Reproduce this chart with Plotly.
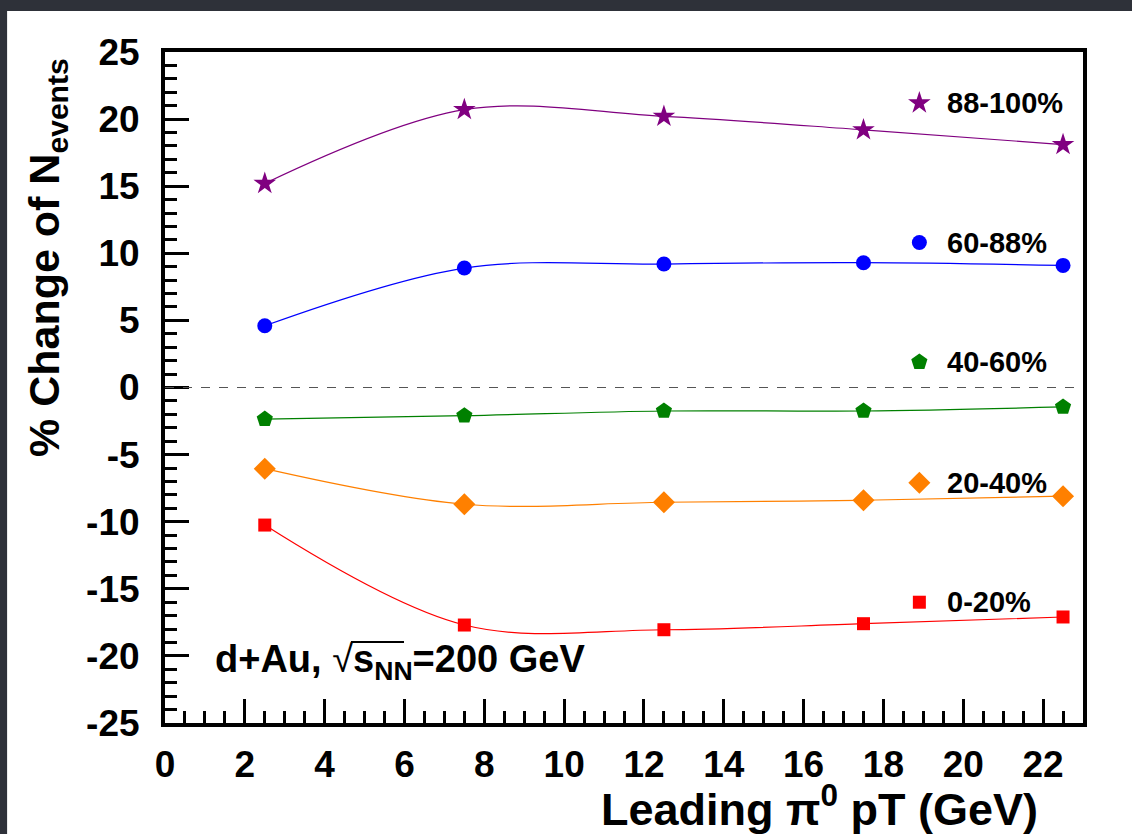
import plotly.graph_objects as go

# Leading pi0 pT bin centres (GeV)
pt_bins = [2.5, 7.5, 12.5, 17.5, 22.5]

# % change of N_events per centrality class
centrality_labels = ["88-100%", "60-88%", "40-60%", "20-40%", "0-20%"]
change_88_100 = [15.2, 20.7, 20.2, 19.2, 18.1]
change_60_88 = [4.6, 8.9, 9.2, 9.3, 9.1]
change_40_60 = [-2.35, -2.1, -1.75, -1.75, -1.45]
change_20_40 = [-6.05, -8.7, -8.55, -8.4, -8.1]
change_0_20 = [-10.25, -17.7, -18.05, -17.6, -17.1]

# axis tick labels (plain hyphen for negatives)
x_ticks = list(range(0, 23, 2))
y_ticks = [-25, -20, -15, -10, -5, 0, 5, 10, 15, 20, 25]
y_ticktext = [str(v) for v in y_ticks]

series = [change_88_100, change_60_88, change_40_60, change_20_40, change_0_20]
colors = ["#800080", "#0000ff", "#008000", "#ff8000", "#ff0000"]
symbols = ["star", "circle", "pentagon", "diamond", "square"]
sizes = [17, 15, 17, 17, 13]

# key placement (data coordinates) for the hand-drawn legend
key_x = 18.9
key_y = [21.2, 10.8, 1.9, -7.1, -16.0]

FONT = "Liberation Sans, Arial, sans-serif"

fig = go.Figure()

for vals, col, sym, sz in zip(series, colors, symbols, sizes):
    fig.add_trace(go.Scatter(
        x=pt_bins, y=vals, mode="lines+markers",
        line=dict(color=col, width=1.2, shape="spline", smoothing=1.0),
        marker=dict(symbol=sym, size=sz, color=col, line=dict(width=0)),
        showlegend=False, hoverinfo="skip",
    ))

# legend keys
for lab, col, sym, sz, ky in zip(centrality_labels, colors, symbols, sizes, key_y):
    fig.add_trace(go.Scatter(
        x=[key_x], y=[ky], mode="markers",
        marker=dict(symbol=sym, size=sz, color=col, line=dict(width=0)),
        showlegend=False, hoverinfo="skip",
    ))
    fig.add_annotation(x=19.55, y=ky, xref="x", yref="y", text=lab,
                       showarrow=False, xanchor="left", yanchor="middle",
                       font=dict(family=FONT, size=29, color="black", weight="bold"))

# zero reference line
fig.add_shape(type="line", x0=0, x1=23, y0=0, y1=0, xref="x", yref="y",
              line=dict(color="#555555", width=1, dash="dash"))

# white slide panel behind the plot
fig.add_shape(type="rect", xref="paper", yref="paper",
              x0=-0.172, x1=1.06, y0=-0.17, y1=1.061,
              fillcolor="white", line=dict(width=0), layer="below")

axis_common = dict(
    showgrid=False, zeroline=False, showline=True, linecolor="black",
    linewidth=4, mirror=True, ticks="inside", tickcolor="black",
    tickwidth=3, ticklen=24,
    tickfont=dict(family=FONT, size=37, color="black", weight="bold"),
)

fig.update_xaxes(range=[0, 23], tickvals=x_ticks,
                 minor=dict(ticks="inside", dtick=0.5, ticklen=12,
                            tickwidth=3, tickcolor="black"),
                 ticklabelstandoff=6, **axis_common)
fig.update_yaxes(range=[-25, 25], tickvals=y_ticks, ticktext=y_ticktext,
                 minor=dict(ticks="inside", dtick=1, ticklen=12,
                            tickwidth=3, tickcolor="black"),
                 ticklabelstandoff=14, **axis_common)

# axis titles
fig.add_annotation(xref="paper", yref="paper", x=1.0 - 43 / 918, y=(723 - 806) / 671,
                   text="Leading \u03c0<sup>0</sup> pT (GeV)", showarrow=False,
                   xanchor="right", yanchor="middle",
                   font=dict(family=FONT, size=45, color="black", weight="bold"))
fig.add_annotation(xref="paper", yref="paper", x=(47 - 165) / 918, y=(723 - 258) / 671,
                   text="% Change of N<sub>events</sub>", showarrow=False,
                   textangle=-90, xanchor="center", yanchor="middle",
                   font=dict(family=FONT, size=43, color="black", weight="bold"))

# collision system label
fig.add_annotation(xref="paper", yref="paper", x=(213 - 165) / 918, y=(723 - 662) / 671,
                   text="<b>d+Au, </b><span style='font-weight:normal'>\u221a</span>"
                        "<b>s<sub>NN</sub>=200 GeV</b>",
                   showarrow=False, xanchor="left", yanchor="middle",
                   font=dict(family=FONT, size=38, color="black"))
# overline of the square root
fig.add_shape(type="line", xref="paper", yref="paper",
              x0=(351 - 165) / 918, x1=(404 - 165) / 918,
              y0=(723 - 642) / 671, y1=(723 - 642) / 671,
              line=dict(color="black", width=2))

fig.update_layout(
    width=1132, height=834,
    margin=dict(l=165, r=49, t=52, b=111),
    paper_bgcolor="#2e3139", plot_bgcolor="white",
)

fig.write_html("out.html")
